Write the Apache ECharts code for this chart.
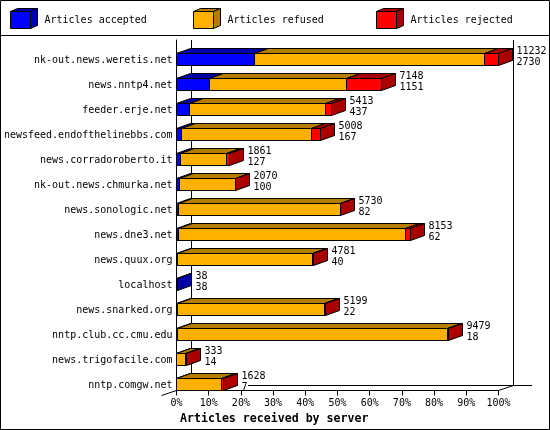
<!DOCTYPE html>
<html><head><meta charset="utf-8">
<style>html,body{margin:0;padding:0;background:#fff;overflow:hidden}#c{width:550px;height:430px}</style>
<script src="https://cdn.jsdelivr.net/npm/echarts@6/dist/echarts.min.js"></script>
</head><body><div id="c"></div>
<script>
const categories = ["nk-out.news.weretis.net","news.nntp4.net","feeder.erje.net","newsfeed.endofthelinebbs.com","news.corradoroberto.it","nk-out.news.chmurka.net","news.sonologic.net","news.dne3.net","news.quux.org","localhost","news.snarked.org","nntp.club.cc.cmu.edu","news.trigofacile.com","nntp.comgw.net"];
const accepted = [24.3,10.25,3.89,1.49,1.13,0.89,0.73,0.55,0.36,0.34,0.2,0.16,0.12,0.06];
const refused  = [71.3,42.7,42.4,40.5,14.54,17.44,50.08,70.64,41.91,0,45.89,84.03,2.64,14.03];
const rejected = [4.4,10.7,1.9,2.6,0.9,0.1,0.2,1.4,0.3,0,0.2,0.2,0.2,0.4];
const totalLabels = ["11232","7148","5413","5008","1861","2070","5730","8153","4781","38","5199","9479","333","1628"];
const acceptedLabels = ["2730","1151","437","167","127","100","82","62","40","38","22","18","14","7"];
const tickValues = [0,10,20,30,40,50,60,70,80,90,100];
const seriesNames = ["Articles accepted","Articles refused","Articles rejected"];
const seriesValues = [accepted, refused, rejected];
const faceColors = ["#0000ff","#ffb000","#ff0000"];
const shadeColors = ["#0000aa","#b47d00","#aa0000"];
const legendX = [10.5,193.5,376.5];
const MONO = '"DejaVu Sans Mono","Liberation Mono",monospace';
const DX = 14, DY = 5, BAR_H = 12;

function px(v){return Math.floor(v)+0.5;}
function segment(params, api){
  const s = params.seriesIndex;
  const a = api.value(0), b = api.value(1), row = api.value(2), last = api.value(3);
  if (b <= a) return {type:'group',children:[]};
  const ps = api.coord([a,row]), pe = api.coord([b,row]);
  const x0 = px(ps[0]), x1 = px(pe[0]), y0 = Math.round(ps[1])+0.5, y1 = y0+BAR_H;
  const st = {stroke:'#000',lineWidth:1};
  const kids = [
    {type:'polygon',shape:{points:[[x0,y0],[x0+DX,y0-DY],[x1+DX,y0-DY],[x1,y0]]},style:Object.assign({fill:shadeColors[s]},st)}
  ];
  if (last) kids.push({type:'polygon',shape:{points:[[x1,y0],[x1+DX,y0-DY],[x1+DX,y1-DY],[x1,y1]]},style:Object.assign({fill:shadeColors[s]},st)});
  kids.push({type:'rect',shape:{x:x0,y:y0,width:x1-x0,height:BAR_H},style:Object.assign({fill:faceColors[s]},st)});
  return {type:'group',children:kids};
}
function labelItem(params, api){
  const end = api.value(0), row = api.value(1);
  const p = api.coord([end,row]);
  const x = px(p[0])+DX+4, y0 = Math.round(p[1]);
  const mk = (t,y)=>({type:'text',style:{x:x,y:y,text:t,fill:'#000',font:'10px '+MONO,verticalAlign:'middle'}});
  return {type:'group',children:[mk(totalLabels[params.dataIndex],y0-2),mk(acceptedLabels[params.dataIndex],y0+9)]};
}
const series = seriesValues.map((vals,s)=>({
  type:'custom',name:seriesNames[s],coordinateSystem:'cartesian2d',clip:false,silent:true,z:3,
  renderItem:segment,encode:{x:[0,1],y:2},
  data:vals.map((v,i)=>{
    let start=0; for(let k=0;k<s;k++) start+=seriesValues[k][i];
    let after=0; for(let k=s+1;k<3;k++) after+=seriesValues[k][i];
    return [start,start+v,i,after===0?1:0];
  })
}));
series.push({
  type:'custom',name:'labels',coordinateSystem:'cartesian2d',clip:false,silent:true,z:4,
  renderItem:labelItem,encode:{x:0,y:1},
  data:categories.map((c,i)=>[accepted[i]+refused[i]+rejected[i],i])
});
const black={stroke:'#000',lineWidth:1};
const line=(x1,y1,x2,y2,z)=>({type:'polyline',shape:{points:[[x1,y1],[x2,y2]]},style:Object.assign({fill:null},black),silent:true,z:z||1});
const graphics=[
  {type:'rect',shape:{x:0.5,y:0.5,width:549,height:429},style:{fill:null,stroke:'#000',lineWidth:1},silent:true},
  line(0,35.5,550,35.5),
  line(191.5,40,191.5,385.5),
  line(513.5,40,513.5,385.5),
  line(248,385.5,532,385.5,100),
  line(161.5,395.5,176.5,390.5),
  line(498.5,390.5,513.5,385.5)
];
seriesNames.forEach((n,i)=>{
  const x=legendX[i];
  graphics.push(
    {type:'polygon',shape:{points:[[x,11.5],[x+7,8.5],[x+27,8.5],[x+20,11.5]]},style:Object.assign({fill:shadeColors[i]},black),silent:true},
    {type:'polygon',shape:{points:[[x+20,11.5],[x+27,8.5],[x+27,25.5],[x+20,28.5]]},style:Object.assign({fill:shadeColors[i]},black),silent:true},
    {type:'rect',shape:{x:x,y:11.5,width:20,height:17},style:Object.assign({fill:faceColors[i]},black),silent:true},
    {type:'text',x:x+34,y:20,style:{text:n,fill:'#000',font:'10px '+MONO,verticalAlign:'middle'},silent:true}
  );
});
const chart=echarts.init(document.getElementById('c'),null,{renderer:'canvas',width:550,height:430});
chart.setOption({
  animation:false,
  backgroundColor:'#fff',
  title:{text:'Articles received by server',left:180,top:412,padding:0,textStyle:{fontFamily:MONO,fontSize:11.6,fontWeight:'bold',color:'#000',lineHeight:14}},
  grid:{left:176.5,right:51.5,top:40,bottom:39.5},
  xAxis:{type:'value',min:tickValues[0],max:tickValues[tickValues.length-1],interval:10,
    splitLine:{show:false},
    axisLine:{show:true,lineStyle:{color:'#000',width:1}},
    axisTick:{show:true,length:5,lineStyle:{color:'#000',width:1}},
    axisLabel:{margin:8,color:'#000',fontFamily:MONO,fontSize:10,formatter:'{value}%',showMinLabel:true,showMaxLabel:true,hideOverlap:false}},
  yAxis:{type:'category',data:categories,inverse:true,
    axisLine:{show:true,onZero:false,lineStyle:{color:'#000',width:1}},
    axisTick:{show:false},splitLine:{show:false},
    axisLabel:{margin:4,interval:0,color:'#000',fontFamily:MONO,fontSize:10,verticalAlign:'top',lineHeight:15}},
  graphic:{elements:graphics},
  series:series
});
</script></body></html>
